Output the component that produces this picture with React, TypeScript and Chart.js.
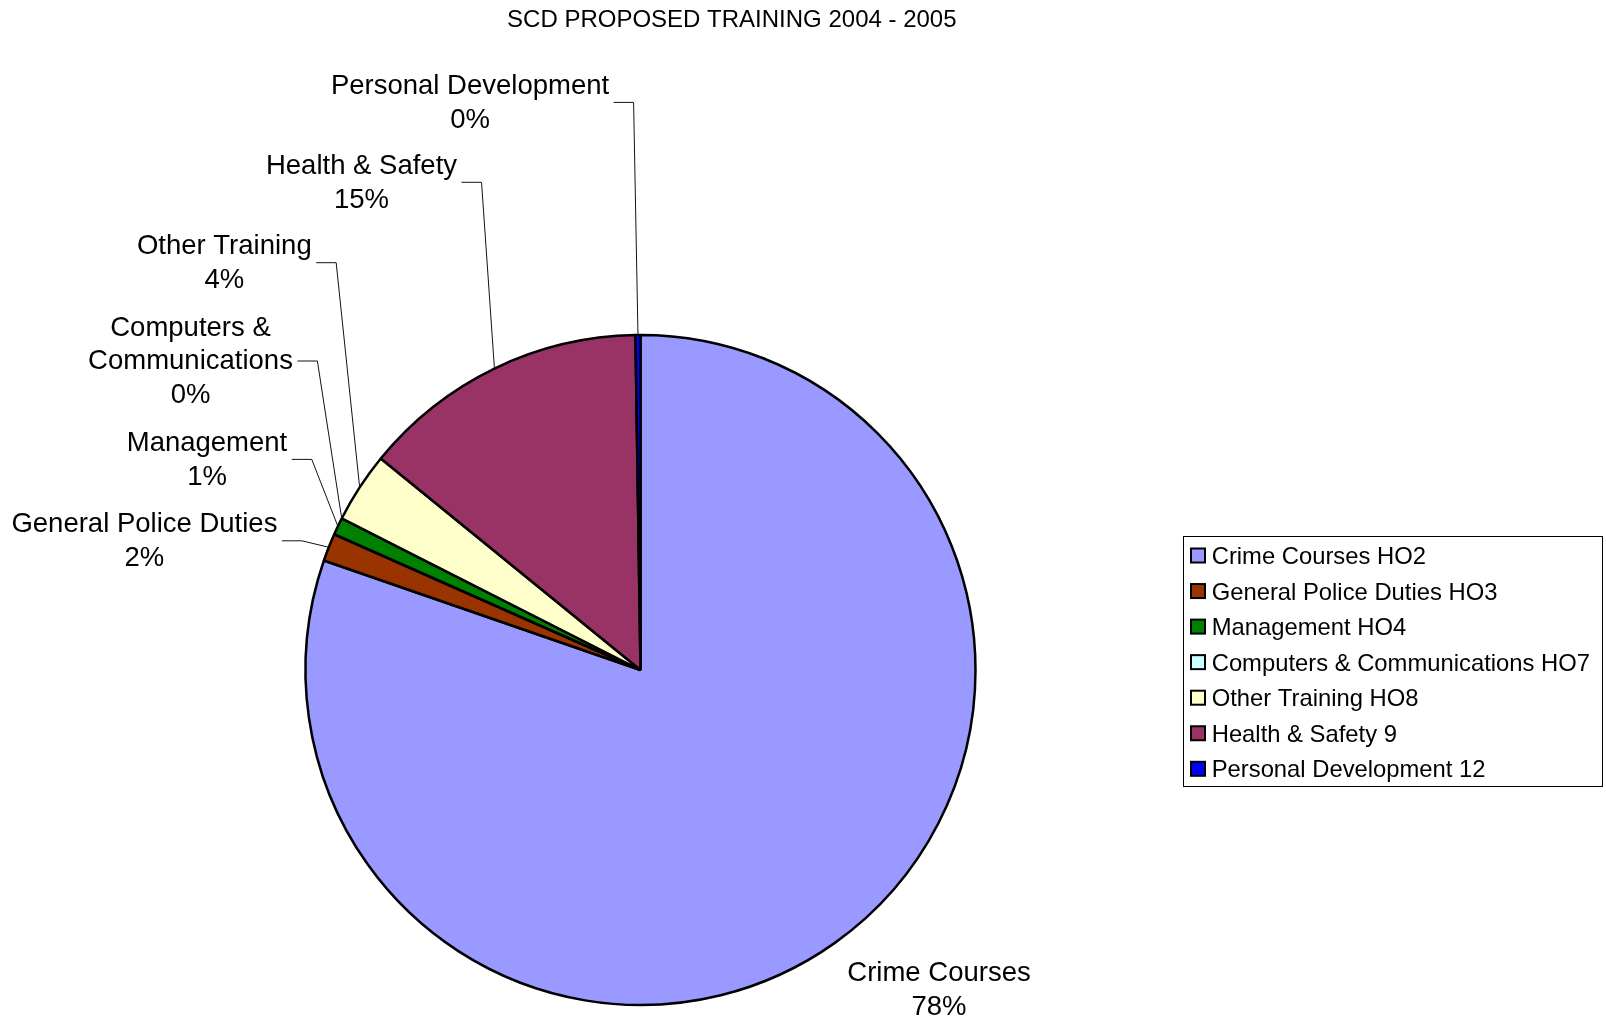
import React, { useEffect, useRef } from "react";
import { Chart, registerables } from "chart.js";

Chart.register(...registerables);

// ---- data ----
const TITLE = "SCD PROPOSED TRAINING 2004 - 2005";
const categories = [
  "Crime Courses",
  "General Police Duties",
  "Management",
  "Computers & Communications",
  "Other Training",
  "Health & Safety",
  "Personal Development",
];
const legendNames = [
  "Crime Courses HO2",
  "General Police Duties HO3",
  "Management HO4",
  "Computers & Communications HO7",
  "Other Training HO8",
  "Health & Safety 9",
  "Personal Development 12",
];
const values = [80.3, 1.34, 0.83, 0, 3.41, 13.88, 0.24];
const percentLabels = ["78%", "2%", "1%", "0%", "4%", "15%", "0%"];
const colors = ["#9999FF", "#993300", "#008000", "#CCFFFF", "#FFFFCC", "#993366", "#0000FF"];

// ---- layout (label block centres, leader flags) ----
const labelCenters: [number, number][] = [
  [939, 988],
  [144.4, 539.3],
  [207, 457.9],
  [190.5, 359.5],
  [224.3, 261.2],
  [361.5, 180.8],
  [470, 100.9],
];
const showLeader = [false, true, true, true, true, true, true];

const FONT = '"Liberation Sans", Arial, sans-serif';

function wrap(ctx: CanvasRenderingContext2D, text: string, maxW: number): string[] {
  const words = text.split(" ");
  const lines: string[] = [];
  let cur = "";
  for (const w of words) {
    const t = cur ? cur + " " + w : w;
    if (cur && ctx.measureText(t).width > maxW) {
      lines.push(cur);
      cur = w;
    } else cur = t;
  }
  if (cur) lines.push(cur);
  return lines;
}

const overlayPlugin = {
  id: "overlay",
  afterDraw(chart: any) {
    const ctx: CanvasRenderingContext2D = chart.ctx;
    ctx.save();
    ctx.fillStyle = "#000";
    // title
    const TS = 24;
    ctx.font = `${TS}px ${FONT}`;
    ctx.textAlign = "center";
    ctx.textBaseline = "alphabetic";
    ctx.fillText(TITLE, 731.8, 18.2 + (0.716 * TS) / 2);

    // data labels with leader lines
    const meta = chart.getDatasetMeta(0);
    const LS = 27.5;
    const LH = 33.8;
    ctx.font = `${LS}px ${FONT}`;
    meta.data.forEach((arc: any, i: number) => {
      const { x, y, startAngle, endAngle, outerRadius } = arc.getProps(
        ["x", "y", "startAngle", "endAngle", "outerRadius"],
        true
      );
      const lines = wrap(ctx, categories[i], 300).concat(percentLabels[i]);
      const [cx, cy] = labelCenters[i];
      const top = cy - ((lines.length - 1) * LH) / 2;
      let maxW = 0;
      ctx.fillStyle = "#000";
      ctx.textAlign = "center";
      lines.forEach((ln, k) => {
        ctx.fillText(ln, cx, top + k * LH + (0.716 * LS) / 2);
        maxW = Math.max(maxW, ctx.measureText(ln).width);
      });
      if (showLeader[i]) {
        const mid = (startAngle + endAngle) / 2;
        const px = x + Math.cos(mid) * outerRadius;
        const py = y + Math.sin(mid) * outerRadius;
        const sx = cx + maxW / 2 + 4.5;
        ctx.beginPath();
        ctx.moveTo(sx, cy + 1.5);
        ctx.lineTo(sx + 20, cy + 1.5);
        ctx.lineTo(px, py);
        ctx.strokeStyle = "#111";
        ctx.lineWidth = 1;
        ctx.stroke();
      }
    });

    // legend
    const LX = 1183;
    const LY = 536;
    const LW = 419;
    const LHT = 250;
    ctx.strokeStyle = "#000";
    ctx.lineWidth = 1;
    ctx.strokeRect(LX + 0.5, LY + 0.5, LW, LHT);
    const GS = 23.8;
    ctx.font = `${GS}px ${FONT}`;
    ctx.textAlign = "left";
    const bg = chart.data.datasets[0].backgroundColor as string[];
    legendNames.forEach((n, i) => {
      const rc = LY + 19.5 + i * 35.55;
      ctx.fillStyle = bg[i];
      ctx.fillRect(LX + 8, rc - 7, 14, 14);
      ctx.strokeStyle = "#000";
      ctx.lineWidth = 2;
      ctx.strokeRect(LX + 8, rc - 7, 14, 14);
      ctx.fillStyle = "#000";
      ctx.fillText(n, LX + 28.7, rc + (0.716 * GS) / 2);
    });
    ctx.restore();
  },
};

export default function App() {
  const ref = useRef<HTMLCanvasElement | null>(null);
  useEffect(() => {
    document.body.style.margin = "0";
    const canvas = ref.current;
    if (!canvas) return;
    const chart = new Chart(canvas, {
      type: "pie",
      data: {
        labels: categories,
        datasets: [
          {
            data: values,
            backgroundColor: colors,
            borderColor: "#000",
            borderWidth: 2.5,
          },
        ],
      },
      options: {
        responsive: false,
        animation: false,
        devicePixelRatio: 1,
        events: [],
        radius: 335,
        layout: { padding: { left: 0, right: 325, top: 319, bottom: 0 } },
        plugins: {
          legend: { display: false },
          tooltip: { enabled: false },
          title: { display: false },
        },
      } as any,
      plugins: [overlayPlugin],
    });
    return () => chart.destroy();
  }, []);
  return (
    <div style={{ width: 1606, height: 1021, background: "#fff" }}>
      <canvas ref={ref} width={1606} height={1021} style={{ display: "block" }} />
    </div>
  );
}
